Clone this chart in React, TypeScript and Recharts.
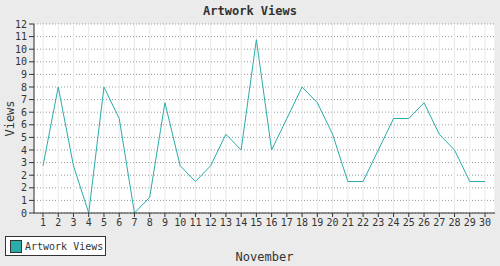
import React from "react";
import { LineChart, Line, XAxis, YAxis, CartesianGrid, Label } from "recharts";

const days: string[] = Array.from({ length: 30 }, (_, i) => String(i + 1));
const views: number[] = [3, 8, 3, 0, 8, 6, 0, 1, 7, 3, 2, 3, 5, 4, 11, 4, 6, 8, 7, 5, 2, 2, 4, 6, 6, 7, 5, 4, 2, 2];
const yTicks: number[] = [0, 0.8, 1.6, 2.4, 3.2, 4, 4.8, 5.6, 6.4, 7.2, 8, 8.8, 9.6, 10.4, 11.2, 12];

const data = days.map((d, i) => ({ day: d, views: views[i] }));

const FONT = "'DejaVu Sans Mono', monospace";
const LINE = "#2aacaa";

export default function App() {
  return (
    <div style={{ position: "absolute", left: 0, top: 0, width: 500, height: 266, background: "#ebebeb", fontFamily: FONT }}>
      <div style={{ position: "absolute", left: 0, width: 500, top: 4, textAlign: "center", fontSize: 12, fontWeight: "bold", color: "#333", lineHeight: "14px" }}>
        Artwork Views
      </div>
      <LineChart width={500} height={266} data={data} margin={{ top: 24, right: 5, bottom: 0, left: 0 }}>
        <CartesianGrid fill="#ffffff" vertical={false} stroke="#999" strokeDasharray="1 2" />
        <CartesianGrid horizontal={false} stroke="#e8e8e8" fill="none" />
        <XAxis
          dataKey="day"
          height={53}
          interval={0}
          padding={{ left: 9, right: 10 }}
          stroke="#333"
          tickLine={{ stroke: "#333" }}
          tickSize={4}
          tick={{ fill: "#333", fontSize: 10, fontFamily: FONT }}
        >
          <Label value="November" position="insideBottom" offset={5} style={{ fill: "#333", fontSize: 12, fontFamily: FONT }} />
        </XAxis>
        <XAxis xAxisId="top" orientation="top" dataKey="day" height={0} tick={false} tickLine={false} stroke="#999" />
        <YAxis
          width={34}
          domain={[0, 12]}
          ticks={yTicks}
          interval={0}
          tickFormatter={(v: number) => String(Math.round(v))}
          stroke="#333"
          tickLine={{ stroke: "#333" }}
          tickSize={5}
          tick={{ fill: "#333", fontSize: 10, fontFamily: FONT }}
        >
          <Label value="Views" angle={-90} position="insideLeft" offset={10} style={{ fill: "#333", fontSize: 12, fontFamily: FONT, textAnchor: "middle" }} />
        </YAxis>
        <YAxis yAxisId="right" orientation="right" width={0} tick={false} tickLine={false} stroke="#999" />
        <Line type="linear" dataKey="views" stroke={LINE} strokeWidth={1} dot={false} isAnimationActive={false} />
      </LineChart>
      <div style={{ position: "absolute", left: 5, top: 236, width: 99, height: 18, border: "1px solid #333", background: "#fff", display: "flex", alignItems: "center" }}>
        <div style={{ width: 10, height: 11, marginLeft: 4, background: LINE, border: "1px solid #333" }} />
        <span style={{ marginLeft: 3, fontSize: 10, color: "#333" }}>Artwork Views</span>
      </div>
    </div>
  );
}
